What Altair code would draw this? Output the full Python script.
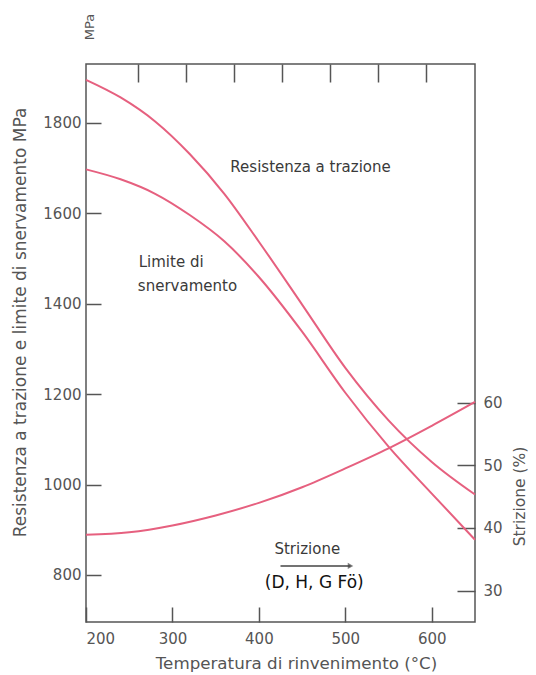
import altair as alt
import pandas as pd

# ---- data ----
temps = [200, 240, 280, 320, 360, 400, 450, 500, 550, 600, 650]
tensile = [1895, 1856, 1803, 1731, 1643, 1537, 1398, 1258, 1142, 1050, 978]
yield_strength = [1697, 1675, 1643, 1596, 1538, 1459, 1338, 1203, 1084, 980, 878]

temps_str = [200, 250, 300, 350, 400, 450, 500, 550, 600, 650]
strizione = [38.9, 39.3, 40.4, 42.0, 44.0, 46.5, 49.5, 52.7, 56.3, 60.1]

x_ticks = [200, 300, 400, 500, 600]
y_ticks = [800, 1000, 1200, 1400, 1600, 1800]
r_ticks = [30, 40, 50, 60]
top_ticks_F = [500, 600, 700, 800, 900, 1000, 1100]
top_ticks_C = [(f - 32) * 5 / 9 for f in top_ticks_F]

labels_txt = ["Resistenza a trazione", "Limite di", "snervamento", "Strizione"]
labels_T = [367, 261, 260, 456]
labels_M = [1702, 1493, 1438, 858]
labels_align = ["left", "left", "left", "center"]

PINK = "#e6607f"
GREY = "#555555"
FONT = "DejaVu Sans"

lines_df = pd.DataFrame({
    "T": temps * 2,
    "M": tensile + yield_strength,
    "serie": ["Resistenza a trazione"] * len(temps) + ["Limite di snervamento"] * len(temps),
})
str_df = pd.DataFrame({"T": temps_str, "S": strizione})
txt_df = pd.DataFrame({"T": labels_T, "M": labels_M, "t": labels_txt, "a": labels_align})

x_scale = alt.Scale(domain=[200, 650], nice=False, zero=False)
y_scale = alt.Scale(domain=[696, 1930], nice=False, zero=False)
r_scale = alt.Scale(domain=[25, 114], nice=False, zero=False)

x_axis = alt.Axis(values=x_ticks, orient="bottom", offset=-15, tickSize=15, domain=False,
                  labelPadding=9, title="Temperatura di rinvenimento (°C)",
                  titleFontSize=16.7, titleAlign="center", titleBaseline="middle",
                  titleX=210, titleY=56, grid=False, tickColor=GREY, tickWidth=1.5)
y_axis = alt.Axis(values=y_ticks, orient="left", offset=-15, tickSize=15, domain=False,
                  format="d", labelPadding=5,
                  title="Resistenza a trazione e limite di snervamento  MPa",
                  titleFontSize=17, titleAngle=270, titleBaseline="middle",
                  titleX=-81, titleY=258, grid=False, tickColor=GREY, tickWidth=1.5)

x_enc = alt.X("T:Q", scale=x_scale, axis=x_axis)
y_enc = alt.Y("M:Q", scale=y_scale, axis=y_axis)

lines = alt.Chart(lines_df).mark_line(color=PINK, strokeWidth=2, interpolate="monotone").encode(
    x=x_enc, y=y_enc, detail="serie:N"
)

texts_left = alt.Chart(txt_df[txt_df["a"] == "left"]).mark_text(
    align="left", baseline="middle", font=FONT, fontSize=15, color="#3a3a3a"
).encode(x=x_enc, y=y_enc, text="t:N")
texts_center = alt.Chart(txt_df[txt_df["a"] == "center"]).mark_text(
    align="center", baseline="middle", font=FONT, fontSize=15, color="#3a3a3a"
).encode(x=x_enc, y=y_enc, text="t:N")

arrow_df = pd.DataFrame({"T": [425], "T2": [506], "M": [820]})
arrow = alt.Chart(arrow_df).mark_rule(color="#444444", strokeWidth=1.5).encode(
    x=x_enc, x2="T2:Q", y=y_enc
)
arrow_head = alt.Chart(pd.DataFrame({"T": [506], "M": [820]})).mark_point(
    shape="triangle-right", filled=True, size=40, color="#444444"
).encode(x=x_enc, y=y_enc)

hand_df = pd.DataFrame({"T": [464], "M": [782], "t": ["(D, H, G Fö)"]})
hand = alt.Chart(hand_df).mark_text(
    align="center", baseline="middle", font=FONT, fontSize=17, color="#111111"
).encode(x=x_enc, y=y_enc, text="t:N")

mpa = alt.Chart(pd.DataFrame({"t": ["MPa"]})).mark_text(
    angle=270, align="center", baseline="middle", font=FONT, fontSize=13, color=GREY
).encode(x=alt.value(4), y=alt.value(-37), text="t:N")

left = alt.layer(lines, texts_left, texts_center, arrow, arrow_head, hand, mpa)

right = alt.Chart(str_df).mark_line(color=PINK, strokeWidth=2, interpolate="monotone").encode(
    x=alt.X("T:Q", scale=x_scale,
            axis=alt.Axis(values=top_ticks_C, orient="top", offset=-18, tickSize=18,
                          domain=False, labels=False, title=None, grid=False,
                          tickColor=GREY, tickWidth=1.5)),
    y=alt.Y("S:Q", scale=r_scale,
            axis=alt.Axis(values=r_ticks, orient="right", offset=-18, tickSize=18,
                          domain=False, labelPadding=8, title="Strizione (%)",
                          titleFontSize=15.5, titleAngle=270, titleBaseline="middle",
                          titleX=62, titleY=432, grid=False,
                          tickColor=GREY, tickWidth=1.5)),
)

chart = alt.layer(left, right).resolve_scale(y="independent").resolve_axis(
    x="independent", y="independent"
).properties(
    width=389, height=558,
    autosize=alt.AutoSizeParams(type="none"),
    padding={"left": 78, "top": 56, "right": 53, "bottom": 50},
).configure_view(
    stroke=GREY, strokeWidth=1.5
).configure_axis(
    labelFont=FONT, labelFontSize=15, labelColor=GREY,
    titleFont=FONT, titleColor=GREY, titleFontWeight="normal",
)

chart.save("out.html", embed_options={"renderer": "svg", "actions": False})
